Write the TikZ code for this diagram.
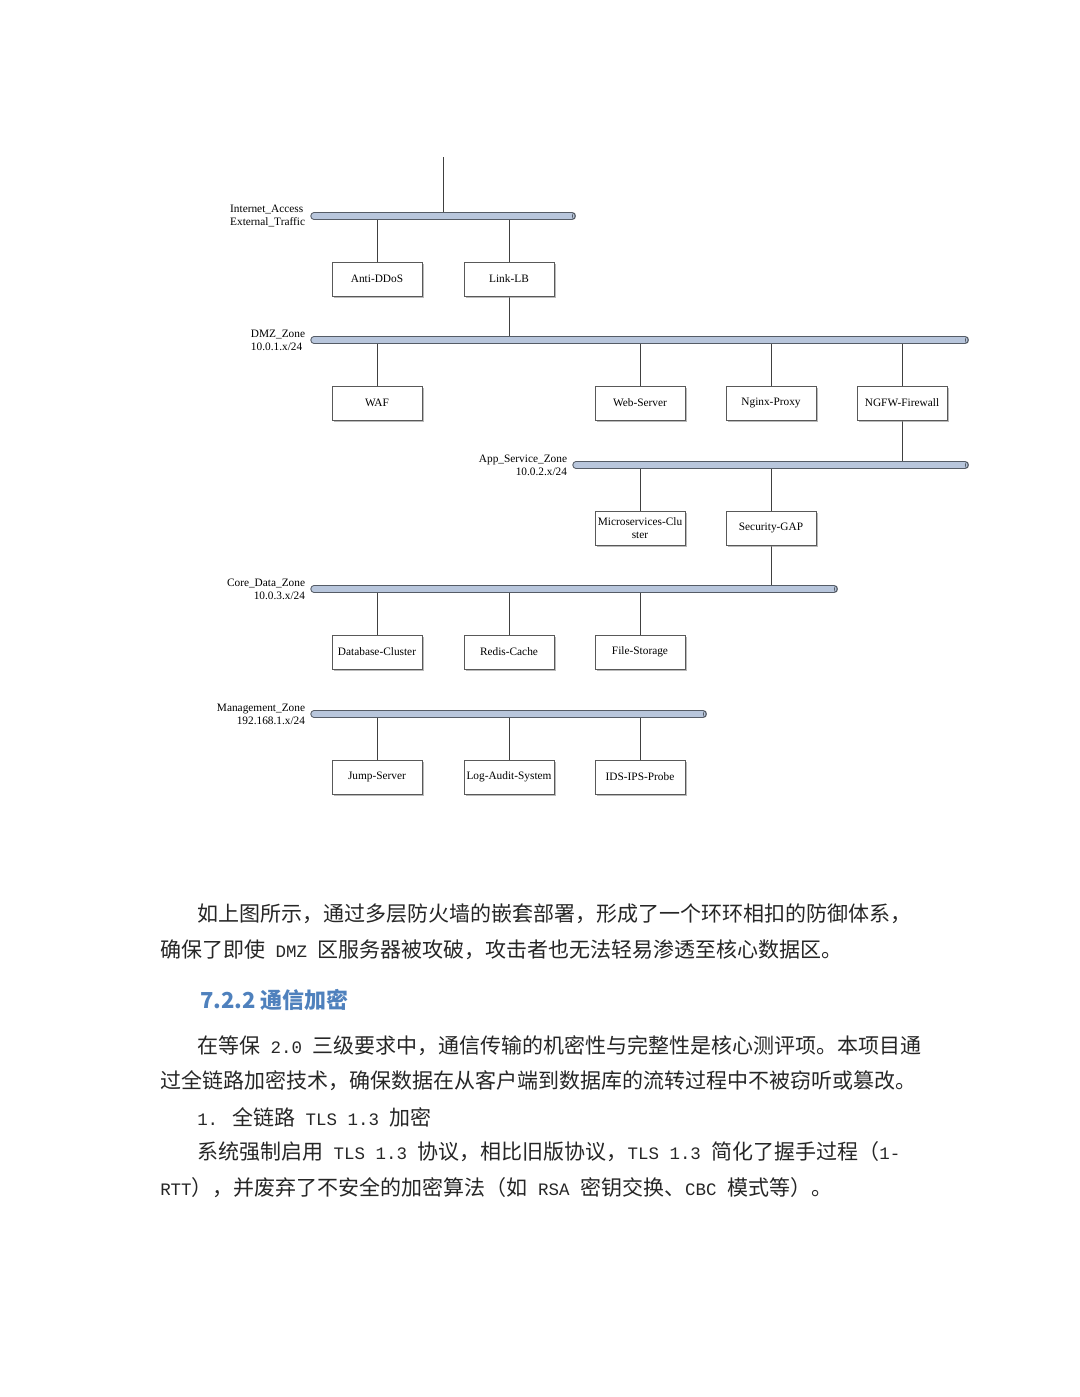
\documentclass[tikz,border=0pt]{standalone}
\usepackage{fontspec}
\setmainfont{Liberation Serif}
\newfontfamily\cjk{Noto Sans CJK SC}
\newfontfamily\latmono{Liberation Mono}
\usetikzlibrary{positioning, shadows, backgrounds}
\definecolor{busfill}{RGB}{184,198,220}
\definecolor{busedge}{RGB}{85,92,102}
\definecolor{headblue}{RGB}{79,129,189}
\newcommand{\en}[1]{{\latmono\fontsize{13.1}{16}\selectfont#1}}

\begin{document}
\begin{tikzpicture}[
        x=0.75pt, y=-0.75pt,
        box/.style={draw=black!65, fill=white, minimum width=67.5pt, minimum height=25.5pt, inner sep=1pt,
            align=center, font=\fontsize{8.5}{9.5}\selectfont,
            drop shadow={shadow xshift=1.6pt, shadow yshift=-1.8pt, fill=black!45, opacity=0.6}},
        zonetext/.style={font=\fontsize{8.5}{9.75}\selectfont, inner sep=0pt},
        bus/.style={draw=busedge, double=busfill, double distance=4pt, line width=0.8pt, line cap=round},
        busend/.style={draw=busedge, line width=0.5pt},
        link/.style={draw=black!75, line width=0.6pt},
        body/.style={font=\cjk\fontsize{15.75}{18}\selectfont, anchor=west, inner sep=0pt, text=black!85},
        heading/.style={font=\cjk\bfseries\fontsize{16.5}{20}\selectfont, anchor=west, inner sep=0pt, text=headblue},
    ]
        \useasboundingbox (0,0) rectangle (1080,1397);
        \coordinate (wan) at (443,157);
        \coordinate (inetL) at (314,216);
        \coordinate (inetR) at (572,216);
        \coordinate (dmzL) at (314,340);
        \coordinate (dmzR) at (965,340);
        \coordinate (appL) at (576,465);
        \coordinate (appR) at (965,465);
        \coordinate (coreL) at (314,589);
        \coordinate (coreR) at (834,589);
        \coordinate (mgmtL) at (314,714);
        \coordinate (mgmtR) at (703,714);
        \node[zonetext, align=left, left=6.5pt of inetL] {Internet\_Access\\External\_Traffic};
        \node[zonetext, align=left, left=6.5pt of dmzL] {DMZ\_Zone\\10.0.1.x/24};
        \node[zonetext, align=right, left=6.5pt of appL] {App\_Service\_Zone\\10.0.2.x/24};
        \node[zonetext, align=right, left=6.5pt of coreL] {Core\_Data\_Zone\\10.0.3.x/24};
        \node[zonetext, align=right, left=6.5pt of mgmtL] {Management\_Zone\\192.168.1.x/24};
        \node[box] (antiddos) at (377,279) {Anti-DDoS};
        \node[box] (linklb) at (509,279) {Link-LB};
        \node[box] (waf) at (377,403) {WAF};
        \node[box] (websrv) at (640,403) {Web-Server};
        \node[box] (nginx) at (771,403) {Nginx-Proxy};
        \node[box] (ngfw) at (902,403) {NGFW-Firewall};
        \node[box] (micro) at (640,528) {Microservices-Clu\\ster};
        \node[box] (gap) at (771,528) {Security-GAP};
        \node[box] (dbclu) at (377,652) {Database-Cluster};
        \node[box] (redis) at (509,652) {Redis-Cache};
        \node[box] (files) at (640,652) {File-Storage};
        \node[box] (jump) at (377,777) {Jump-Server};
        \node[box] (logaudit) at (509,777) {Log-Audit-System};
        \node[box] (ids) at (640,777) {IDS-IPS-Probe};
        \begin{scope}[on background layer]
            \draw[link] (wan) -- (wan |- inetL);
            \draw[link] (antiddos) -- (antiddos |- inetL);
            \draw[link] (linklb) -- (linklb |- inetL);
            \draw[link] (linklb) -- (linklb |- dmzL);
            \draw[link] (waf) -- (waf |- dmzL);
            \draw[link] (websrv) -- (websrv |- dmzL);
            \draw[link] (nginx) -- (nginx |- dmzL);
            \draw[link] (ngfw) -- (ngfw |- dmzL);
            \draw[link] (ngfw) -- (ngfw |- appL);
            \draw[link] (micro) -- (micro |- appL);
            \draw[link] (gap) -- (gap |- appL);
            \draw[link] (gap) -- (gap |- coreL);
            \draw[link] (dbclu) -- (dbclu |- coreL);
            \draw[link] (redis) -- (redis |- coreL);
            \draw[link] (files) -- (files |- coreL);
            \draw[link] (jump) -- (jump |- mgmtL);
            \draw[link] (logaudit) -- (logaudit |- mgmtL);
            \draw[link] (ids) -- (ids |- mgmtL);
        \end{scope}
        \foreach \zn in {inet, dmz, app, core, mgmt} {
            \draw[bus] (\zn L) -- (\zn R);
            \draw[busend] ([xshift=1.4pt]\zn R) ellipse [x radius=1.1pt, y radius=2.3pt];
        }
        \node[body] (para1a) at (197,914) {如上图所示，通过多层防火墙的嵌套部署，形成了一个环环相扣的防御体系，};
        \node[body] (para1b) at (160,950) {确保了即使\en{ DMZ }区服务器被攻破，攻击者也无法轻易渗透至核心数据区。};
        \node[heading] (sec) at (200,1000) {7.2.2 通信加密};
        \node[body] (para2a) at (197,1046) {在等保\en{ 2.0 }三级要求中，通信传输的机密性与完整性是核心测评项。本项目通};
        \node[body] (para2b) at (160,1081) {过全链路加密技术，确保数据在从客户端到数据库的流转过程中不被窃听或篡改。};
        \node[body] (item1) at (197,1117) {\en{1. }全链路\en{ TLS 1.3 }加密};
        \node[body] (para3a) at (197,1152) {系统强制启用\en{ TLS 1.3 }协议，相比旧版协议，\en{TLS 1.3 }简化了握手过程（\en{1-}};
        \node[body] (para3b) at (160,1188) {\en{RTT}），并废弃了不安全的加密算法（如\en{ RSA }密钥交换、\en{CBC }模式等）。};
    \end{tikzpicture}
\end{document}
